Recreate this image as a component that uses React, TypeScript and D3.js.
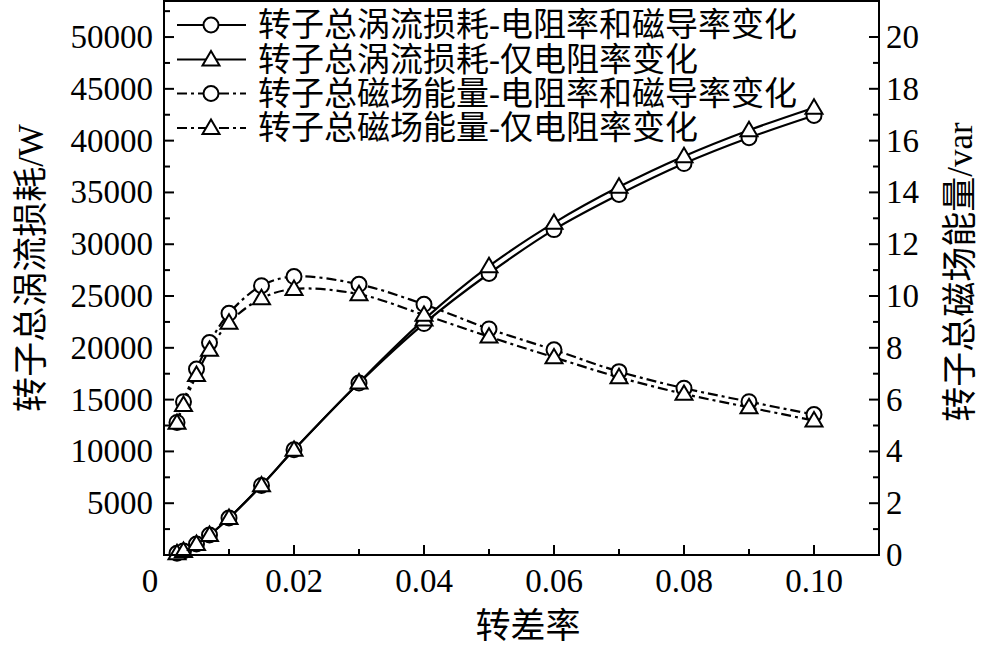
import React from "react";
import * as d3 from "d3";

const slip = [0.002, 0.003, 0.005, 0.007, 0.01, 0.015, 0.02, 0.03, 0.04, 0.05, 0.06, 0.07, 0.08, 0.09, 0.1];
const lossBoth = [160, 390, 1060, 1930, 3570, 6720, 10150, 16600, 22340, 27175, 31410, 34800, 37790, 40280, 42430];
const lossRes = [160, 390, 1060, 1930, 3570, 6720, 10150, 16650, 22720, 27880, 32060, 35540, 38500, 41010, 43180];
const energyBoth = [5.12, 5.92, 7.18, 8.2, 9.33, 10.4, 10.75, 10.45, 9.68, 8.73, 7.92, 7.08, 6.44, 5.92, 5.42];
const energyRes = [5.1, 5.79, 6.95, 7.92, 8.97, 9.91, 10.27, 10.07, 9.27, 8.43, 7.63, 6.86, 6.22, 5.7, 5.19];

const xTicks = [0.02, 0.04, 0.06, 0.08, 0.1];
const xTickLabels = ["0.02", "0.04", "0.06", "0.08", "0.10"];
const leftTicks = [5000, 10000, 15000, 20000, 25000, 30000, 35000, 40000, 45000, 50000];
const rightTicks = [0, 2, 4, 6, 8, 10, 12, 14, 16, 18, 20];

const legendLabels = [
  "转子总涡流损耗-电阻率和磁导率变化",
  "转子总涡流损耗-仅电阻率变化",
  "转子总磁场能量-电阻率和磁导率变化",
  "转子总磁场能量-仅电阻率变化",
];
const xTitle = "转差率";
const leftTitle = "转子总涡流损耗/W";
const rightTitle = "转子总磁场能量/var";

const W = 983, H = 648;
const L = 164, R = 879, T = 1, B = 555;
const FONT = "'Liberation Serif', 'Times New Roman', 'Noto Sans CJK SC', serif";
const FS = 33;
const FT = 35;

const x = d3.scaleLinear().domain([0, 0.11]).range([L, R]);
const yL = d3.scaleLinear().domain([0, 53480]).range([B, T]);
const yR = d3.scaleLinear().domain([0, 21.39]).range([B, T]);

const DASHDOT = "10,4,3,4";

function Circle({ cx, cy }: { cx: number; cy: number }) {
  return <circle cx={cx} cy={cy} r={7.5} fill="white" stroke="black" strokeWidth={2} />;
}
function Tri({ cx, cy }: { cx: number; cy: number }) {
  const s = 8.5;
  const p = d3.path();
  p.moveTo(cx, cy - s);
  p.lineTo(cx + s, cy + s * 0.7);
  p.lineTo(cx - s, cy + s * 0.7);
  p.closePath();
  return <path d={p.toString()} fill="white" stroke="black" strokeWidth={2} />;
}

export default function App() {
  const series = [
    { vals: lossBoth, y: yL, dash: undefined, marker: "c" },
    { vals: lossRes, y: yL, dash: undefined, marker: "t" },
    { vals: energyBoth, y: yR, dash: DASHDOT, marker: "c" },
    { vals: energyRes, y: yR, dash: DASHDOT, marker: "t" },
  ];
  const line = (ys: d3.ScaleLinear<number, number>) =>
    d3
      .line<number>()
      .x((_, i) => x(slip[i]))
      .y((v) => ys(v))
      .curve(d3.curveCatmullRom.alpha(0.5));

  const leftMinor = d3.range(2500, 53000, 5000);
  const rightMinor = d3.range(1, 21, 2);
  const xMinor = [0.01, 0.03, 0.05, 0.07, 0.09];

  const legendY = [25, 59.5, 93.5, 128];

  return (
    <svg width={W} height={H} style={{ position: "absolute", left: 0, top: 0, background: "white" }} fontFamily={FONT}>
      <rect x={0} y={0} width={W} height={H} fill="white" />
      {series.map((s, k) => (
        <path key={"l" + k} d={line(s.y)(s.vals) || ""} fill="none" stroke="black" strokeWidth={2.2} strokeDasharray={s.dash} />
      ))}
      {series.map((s, k) =>
        s.vals.map((v, i) =>
          s.marker === "c" ? (
            <Circle key={`m${k}-${i}`} cx={x(slip[i])} cy={s.y(v)} />
          ) : (
            <Tri key={`m${k}-${i}`} cx={x(slip[i])} cy={s.y(v)} />
          )
        )
      )}
      <rect x={L} y={T} width={R - L} height={B - T} fill="none" stroke="black" strokeWidth={2} />
      {leftTicks.map((t) => (
        <g key={"lt" + t}>
          <line x1={L} x2={L + 10} y1={yL(t)} y2={yL(t)} stroke="black" strokeWidth={2} />
          <text x={L - 11} y={yL(t) + 11} textAnchor="end" fontSize={FS}>
            {t}
          </text>
        </g>
      ))}
      {leftMinor.map((t) => (
        <line key={"lm" + t} x1={L} x2={L + 6} y1={yL(t)} y2={yL(t)} stroke="black" strokeWidth={2} />
      ))}
      {rightTicks.map((t) => (
        <g key={"rt" + t}>
          <line x1={R} x2={R - 10} y1={yR(t)} y2={yR(t)} stroke="black" strokeWidth={2} />
          <text x={R + 7} y={yR(t) + 11} textAnchor="start" fontSize={FS}>
            {t}
          </text>
        </g>
      ))}
      {rightMinor.map((t) => (
        <line key={"rm" + t} x1={R} x2={R - 6} y1={yR(t)} y2={yR(t)} stroke="black" strokeWidth={2} />
      ))}
      {xTicks.map((t, i) => (
        <g key={"xt" + t}>
          <line x1={x(t)} x2={x(t)} y1={B} y2={B - 10} stroke="black" strokeWidth={2} />
          <text x={x(t)} y={B + 37} textAnchor="middle" fontSize={FS}>
            {xTickLabels[i]}
          </text>
        </g>
      ))}
      <text x={x(0) - 14} y={B + 37} textAnchor="middle" fontSize={FS}>
        0
      </text>
      {xMinor.map((t) => (
        <line key={"xm" + t} x1={x(t)} x2={x(t)} y1={B} y2={B - 6} stroke="black" strokeWidth={2} />
      ))}
      <text x={528} y={638} textAnchor="middle" fontSize={FT}>
        {xTitle}
      </text>
      <text transform={`translate(43,268) rotate(-90)`} textAnchor="middle" fontSize={FT}>
        {leftTitle}
      </text>
      <text transform={`translate(972,272) rotate(-90)`} textAnchor="middle" fontSize={FT}>
        {rightTitle}
      </text>
      {legendLabels.map((lab, i) => (
        <g key={"lg" + i}>
          <line x1={177} x2={246} y1={legendY[i]} y2={legendY[i]} stroke="black" strokeWidth={2} strokeDasharray={i >= 2 ? DASHDOT : undefined} />
          {i % 2 === 0 ? <Circle cx={211} cy={legendY[i]} /> : <Tri cx={211} cy={legendY[i]} />}
          <text x={258} y={legendY[i] + 11} fontSize={FS}>
            {lab}
          </text>
        </g>
      ))}
    </svg>
  );
}
